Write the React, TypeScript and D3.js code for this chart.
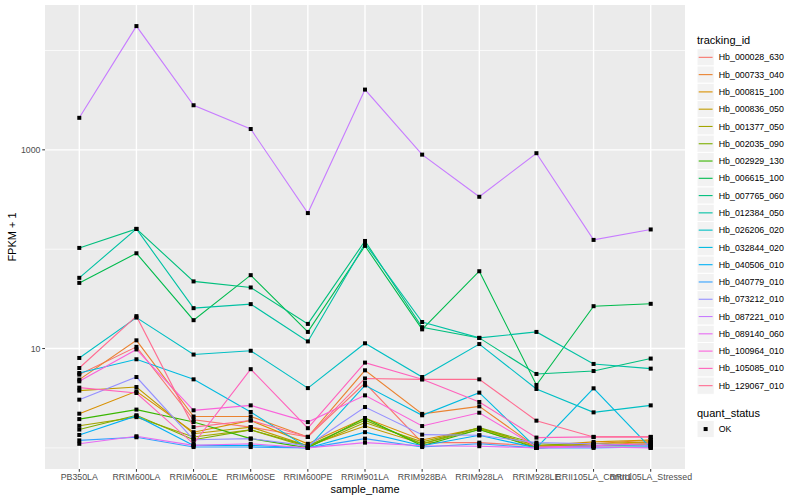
import * as d3 from 'd3';

// sample order on the x axis
const samples = [
  'PB350LA', 'RRIM600LA', 'RRIM600LE', 'RRIM600SE', 'RRIM600PE', 'RRIM901LA',
  'RRIM928BA', 'RRIM928LA', 'RRIM928LE', 'RRII105LA_Control', 'RRII105LA_Stressed',
];

const trackingIds = [
  'Hb_000028_630', 'Hb_000733_040', 'Hb_000815_100', 'Hb_000836_050', 'Hb_001377_050',
  'Hb_002035_090', 'Hb_002929_130', 'Hb_006615_100', 'Hb_007765_060', 'Hb_012384_050',
  'Hb_026206_020', 'Hb_032844_020', 'Hb_040506_010', 'Hb_040779_010', 'Hb_073212_010',
  'Hb_087221_010', 'Hb_089140_060', 'Hb_100964_010', 'Hb_105085_010', 'Hb_129067_010',
];

// ggplot hue palette, 20 levels
const colors = [
  '#F8766D', '#EA8331', '#D89000', '#C09B00', '#A3A500', '#7CAE00', '#39B600', '#00BB4E',
  '#00BF7D', '#00C1A3', '#00BFC4', '#00BAE0', '#00B0F6', '#35A2FF', '#9590FF', '#C77CFF',
  '#E76BF3', '#FA62DB', '#FF62BC', '#FF6C91',
];

// FPKM + 1, one row per tracking_id, one column per sample
const fpkm = [
  [5.47, 10.4, 1.92, 1.62, 1.29, 4.5, 1.13, 1.13, 1.05, 1.05, 1.15],
  [4.87, 12.1, 2.07, 2.07, 1.29, 6.04, 2.2, 2.62, 1.02, 1.1, 1.2],
  [2.21, 3.71, 1.44, 1.89, 1.1, 2.0, 1.2, 1.58, 1.05, 1.15, 1.2],
  [3.77, 4.1, 1.39, 1.62, 1.05, 1.66, 1.1, 1.53, 1.02, 1.1, 1.15],
  [1.67, 2.04, 1.29, 1.52, 1.02, 1.8, 1.15, 1.58, 1.05, 1.05, 1.1],
  [1.53, 2.13, 1.21, 1.52, 1.05, 1.9, 1.1, 1.6, 1.1, 1.05, 1.1],
  [1.95, 2.43, 1.82, 1.24, 1.0, 2.0, 1.05, 1.53, 1.0, 1.05, 1.05],
  [45.8, 91, 19.3, 54.8, 14.7, 108, 15.6, 60, 4.3, 26.7, 28.2],
  [103, 160, 47.4, 41.2, 17.7, 121, 16.4, 12.8, 5.55, 5.94, 7.93],
  [51.5, 160, 25.5, 28, 11.8, 114, 18.5, 12.8, 14.7, 7.0, 6.28],
  [8.04, 20.5, 8.7, 9.5, 4.0, 11.3, 5.17, 11.1, 3.92, 2.28, 2.68],
  [5.68, 7.8, 4.9, 2.3, 1.0, 4.26, 2.13, 3.6, 1.0, 3.98, 1.0],
  [1.35, 2.1, 1.06, 1.06, 1.0, 1.44, 1.05, 1.34, 1.0, 1.05, 1.05],
  [1.19, 1.28, 1.02, 1.02, 1.0, 1.24, 1.02, 1.1, 1.0, 1.0, 1.02],
  [3.06, 5.17, 1.21, 1.24, 1.05, 2.58, 1.36, 1.34, 1.13, 1.1, 1.05],
  [2100, 17600, 2810, 1620, 231, 4040, 895, 337, 925, 124, 158],
  [1.1, 1.31, 1.06, 1.1, 1.0, 1.13, 1.05, 1.04, 1.0, 1.02, 1.0],
  [4.68, 9.8, 2.39, 2.68, 1.82, 3.38, 1.66, 2.26, 1.02, 1.05, 1.1],
  [4.04, 3.57, 1.1, 6.2, 1.58, 7.22, 4.9, 2.9, 1.27, 1.29, 1.29],
  [6.37, 21.2, 1.62, 1.89, 1.29, 5.0, 4.9, 4.9, 1.88, 1.29, 1.29],
];

const yMajor = [10, 1000];
const yMinor = [1, 100, 10000];
const statusLevels = ['OK'];

const FONT = '"Liberation Sans", Arial, Helvetica, sans-serif';

export default function App() {
  const width = 800;
  const height = 500;
  const panel = { left: 45, right: 685, top: 5, bottom: 469 };

  const x = d3.scalePoint<string>()
    .domain(samples)
    .range([panel.left, panel.right])
    .padding(0.6);

  const allVals = fpkm.flat();
  const [lo, hi] = d3.extent(allVals) as [number, number];
  const lr = Math.log10(hi) - Math.log10(lo);
  const y = d3.scaleLog()
    .domain([10 ** (Math.log10(lo) - lr * 0.05), 10 ** (Math.log10(hi) + lr * 0.05)])
    .range([panel.bottom, panel.top]);

  const line = d3.line<number>()
    .x((_, i) => x(samples[i]) as number)
    .y((d) => y(d));

  const legendX = 697;
  const keySize = 17.28;
  const keyTop = 48.7;

  return (
    <svg width={width} height={height} style={{ position: 'absolute', left: 0, top: 0, background: '#fff' }}
      fontFamily={FONT}>
      <rect x={panel.left} y={panel.top} width={panel.right - panel.left} height={panel.bottom - panel.top} fill="#EBEBEB" />
      {yMinor.map((v) => (
        <line key={'mn' + v} x1={panel.left} x2={panel.right} y1={y(v)} y2={y(v)} stroke="#fff" strokeWidth={0.7} />
      ))}
      {yMajor.map((v) => (
        <line key={'mj' + v} x1={panel.left} x2={panel.right} y1={y(v)} y2={y(v)} stroke="#fff" strokeWidth={1.4} />
      ))}
      {samples.map((s) => (
        <line key={'gx' + s} x1={x(s)} x2={x(s)} y1={panel.top} y2={panel.bottom} stroke="#fff" strokeWidth={1.4} />
      ))}

      {fpkm.map((row, i) => (
        <path key={'l' + i} d={line(row) as string} fill="none" stroke={colors[i]} strokeWidth={1.1} />
      ))}
      {fpkm.map((row, i) => row.map((v, j) => (
        <rect key={'p' + i + '-' + j} x={(x(samples[j]) as number) - 2} y={y(v) - 2} width={4} height={4} fill="#000" />
      )))}

      {/* y axis */}
      {yMajor.map((v) => (
        <g key={'ty' + v}>
          <line x1={panel.left - 2.75} x2={panel.left} y1={y(v)} y2={y(v)} stroke="#333" strokeWidth={1} />
          <text x={panel.left - 4.5} y={y(v)} dy="0.35em" textAnchor="end" fontSize={8.8} fill="#4D4D4D">
            {d3.format('d')(v)}
          </text>
        </g>
      ))}
      {/* x axis */}
      {samples.map((s) => (
        <g key={'tx' + s}>
          <line x1={x(s)} x2={x(s)} y1={panel.bottom} y2={panel.bottom + 2.75} stroke="#333" strokeWidth={1} />
          <text x={x(s)} y={panel.bottom + 11} textAnchor="middle" fontSize={8.8} fill="#4D4D4D">{s}</text>
        </g>
      ))}
      <text x={(panel.left + panel.right) / 2} y={492.5} textAnchor="middle" fontSize={11} fill="#000">sample_name</text>
      <text transform={`translate(16,${(panel.top + panel.bottom) / 2}) rotate(-90)`} textAnchor="middle" fontSize={11} fill="#000">FPKM + 1</text>

      {/* legends */}
      <text x={legendX} y={44} fontSize={11} fill="#000">tracking_id</text>
      {trackingIds.map((id, i) => {
        const ky = keyTop + i * keySize;
        return (
          <g key={'lg' + id}>
            <rect x={legendX} y={ky} width={keySize} height={keySize} fill="#F2F2F2" stroke="#fff" strokeWidth={1} />
            <line x1={legendX + 1.7} x2={legendX + keySize - 1.7} y1={ky + keySize / 2} y2={ky + keySize / 2}
              stroke={colors[i]} strokeWidth={1.1} />
            <text x={legendX + keySize + 4.5} y={ky + keySize / 2} dy="0.35em" fontSize={8.8} fill="#000">{id}</text>
          </g>
        );
      })}
      <text x={legendX} y={416.5} fontSize={11} fill="#000">quant_status</text>
      {statusLevels.map((s, i) => {
        const ky = 420.4 + i * keySize;
        return (
          <g key={'st' + s}>
            <rect x={legendX} y={ky} width={keySize} height={keySize} fill="#F2F2F2" stroke="#fff" strokeWidth={1} />
            <rect x={legendX + keySize / 2 - 2} y={ky + keySize / 2 - 2} width={4} height={4} fill="#000" />
            <text x={legendX + keySize + 4.5} y={ky + keySize / 2} dy="0.35em" fontSize={8.8} fill="#000">{s}</text>
          </g>
        );
      })}
    </svg>
  );
}
